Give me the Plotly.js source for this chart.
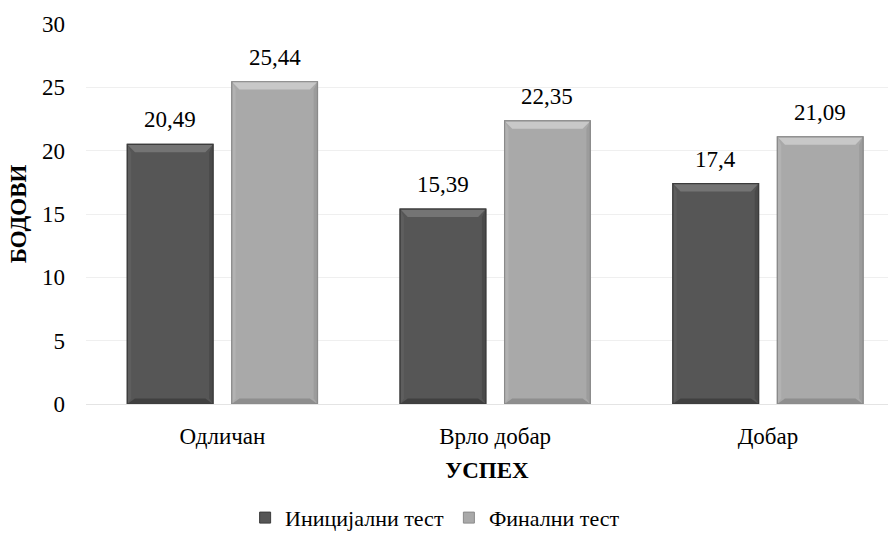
<!DOCTYPE html>
<html>
<head>
<meta charset="utf-8">
<script src="https://cdn.plot.ly/plotly-3.0.1.min.js"></script>
<style>html,body{margin:0;padding:0;background:#fff;}#chart{width:888px;height:547px;}</style>
</head>
<body>
<div id="chart"></div>
<script>
const categories = ['Одличан', 'Врло добар', 'Добар'];
const seriesNames = ['Иницијални тест', 'Финални тест'];
const initialValues = [20.49, 15.39, 17.4];
const finalValues = [25.44, 22.35, 21.09];
const yTicks = [0, 5, 10, 15, 20, 25, 30];

const FONT = 'Liberation Serif, Times New Roman, serif';
const fmt = v => String(v).replace('.', ',');

const BARGAP = 0.234, GROUPGAP = 0.18;
const slot = (1 - BARGAP) / 2;
const barW = slot * (1 - GROUPGAP);

const styles = [
  {fill: '#565656', line: '#3c3c3c', top: '#747474', bottom: '#404040', left: '#5e5e5e', right: '#4a4a4a'},
  {fill: '#a9a9a9', line: '#8a8a8a', top: '#c8c8c8', bottom: '#8e8e8e', left: '#b2b2b2', right: '#9c9c9c'}
];
const seriesValues = [initialValues, finalValues];

const data = seriesValues.map((vals, s) => ({
  type: 'bar',
  name: seriesNames[s],
  x: categories,
  y: vals,
  showlegend: false,
  marker: {color: styles[s].fill, line: {color: styles[s].line, width: 1.2}},
  hoverinfo: 'skip'
}));
// legend entries with small square swatches
seriesValues.forEach((vals, s) => {
  data.push({
    type: 'scatter', mode: 'markers', name: seriesNames[s],
    x: [null], y: [null],
    marker: {symbol: 'square', size: 11, color: styles[s].fill, line: {color: styles[s].line, width: 1}},
    hoverinfo: 'skip'
  });
});

const shapes = [];
const annotations = [];
const dx = 0.028, dy = 0.62;
seriesValues.forEach((vals, s) => {
  vals.forEach((v, i) => {
    const cx = i + (s === 0 ? -slot / 2 : slot / 2);
    const l = cx - barW / 2, r = cx + barW / 2;
    const st = styles[s];
    shapes.push({type: 'path', xref: 'x', yref: 'y', layer: 'above', line: {width: 0}, fillcolor: st.top,
      path: `M${l},${v} L${r},${v} L${r - dx},${v - dy} L${l + dx},${v - dy} Z`});
    shapes.push({type: 'path', xref: 'x', yref: 'y', layer: 'above', line: {width: 0}, fillcolor: st.bottom,
      path: `M${l},0 L${r},0 L${r - dx},${dy * 0.7} L${l + dx},${dy * 0.7} Z`});
    shapes.push({type: 'path', xref: 'x', yref: 'y', layer: 'above', line: {width: 0}, fillcolor: st.left,
      path: `M${l},0 L${l + dx * 0.5},${dy * 0.7} L${l + dx * 0.5},${v - dy} L${l},${v} Z`});
    shapes.push({type: 'path', xref: 'x', yref: 'y', layer: 'above', line: {width: 0}, fillcolor: st.right,
      path: `M${r},0 L${r - dx * 0.5},${dy * 0.7} L${r - dx * 0.5},${v - dy} L${r},${v} Z`});
    shapes.push({type: 'rect', xref: 'x', yref: 'y', layer: 'above', x0: l, x1: r, y0: 0, y1: v,
      line: {color: st.line, width: 1.2}, fillcolor: 'rgba(0,0,0,0)'});
    annotations.push({x: cx, y: v, xref: 'x', yref: 'y', text: fmt(v), showarrow: false,
      yanchor: 'bottom', yshift: 10, font: {family: FONT, size: 23, color: '#000'}});
  });
});

const layout = {
  width: 888,
  height: 547,
  margin: {l: 86, r: 0, t: 24, b: 143},
  paper_bgcolor: '#fff',
  plot_bgcolor: '#fff',
  font: {family: FONT, size: 23, color: '#000'},
  barmode: 'group',
  bargap: BARGAP,
  bargroupgap: GROUPGAP,
  showlegend: true,
  shapes: shapes,
  annotations: annotations,
  legend: {
    orientation: 'h',
    xref: 'container', yref: 'container',
    x: 0.49, xanchor: 'center',
    y: 0.015, yanchor: 'bottom',
    font: {family: FONT, size: 22, color: '#000'},
    itemwidth: 30,
    tracegroupgap: 0
  },
  xaxis: {
    range: [-0.5, 2.44],
    showgrid: false,
    showline: false,
    zeroline: false,
    ticks: '',
    ticklabelstandoff: 16,
    tickfont: {family: FONT, size: 23, color: '#000'},
    title: {text: '<b>УСПЕХ</b>', font: {family: FONT, size: 23, color: '#000'}, standoff: 13}
  },
  yaxis: {
    range: [0, 30],
    tickvals: yTicks,
    ticktext: yTicks.map(String),
    showgrid: true,
    gridcolor: '#efefef',
    gridwidth: 1,
    zeroline: true,
    zerolinecolor: '#e4e4e4',
    zerolinewidth: 1,
    showline: false,
    ticks: '',
    ticklabelstandoff: 20,
    tickfont: {family: FONT, size: 23, color: '#000'},
    title: {text: '<b>БОДОВИ</b>', font: {family: FONT, size: 23, color: '#000'}, standoff: 8}
  }
};

Plotly.newPlot('chart', data, layout, {displayModeBar: false, staticPlot: true});
</script>
</body>
</html>
